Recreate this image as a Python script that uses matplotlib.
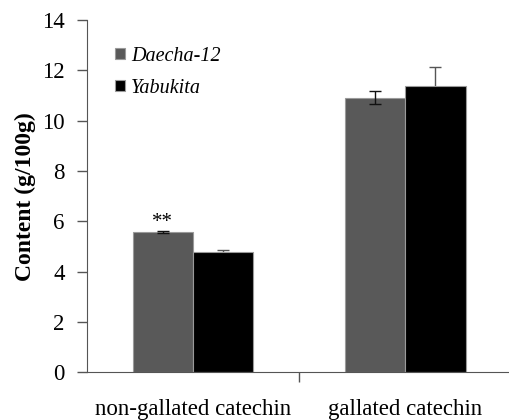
import matplotlib
matplotlib.use("Agg")
import matplotlib.pyplot as plt
import numpy as np

categories = ["non-gallated catechin", "gallated catechin"]
series_names = ["Daecha-12", "Yabukita"]
daecha = [5.56, 10.92]
daecha_err = [0.04, 0.25]
yabukita = [4.76, 11.40]
yabukita_err = [0.08, 0.75]
yticks = [0, 2, 4, 6, 8, 10, 12, 14]
annot = ["**", ""]

plt.rcParams['font.family'] = ['Liberation Serif', 'DejaVu Serif']

fig = plt.figure(figsize=(5.09, 4.2), dpi=100)
ax = fig.add_axes([0.171, 0.114, 0.829, 0.838])

x = np.arange(len(categories))
w = 0.285
ax.bar(x - w/2, daecha, w, color="#595959", edgecolor="#9a9a9a", linewidth=0.8, label=series_names[0], zorder=2)
ax.bar(x + w/2, yabukita, w, color="#000000", edgecolor="#9a9a9a", linewidth=0.8, label=series_names[1], zorder=2)
ax.errorbar(x - w/2, daecha, yerr=daecha_err, fmt="none", ecolor="#111111", elinewidth=1.0, capsize=4, capthick=1.0, zorder=3)
ax.errorbar(x + w/2, yabukita, yerr=yabukita_err, fmt="none", ecolor="#555555", elinewidth=1.0, capsize=4, capthick=1.0, zorder=1)

for i, a in enumerate(annot):
    if a:
        ax.text(x[i] - w/2, daecha[i] + daecha_err[i] - 0.02, a, ha="center", va="bottom", fontsize=15)

ax.set_xlim(-0.5, 1.49)
ax.set_ylim(0, 14)
ax.set_yticks(yticks)
ax.set_yticklabels([str(t) for t in yticks], fontsize=16.5)
ax.set_xticks([0.5])
ax.set_xticklabels([""])
ax.tick_params(axis="x", direction="out", length=7, width=1, colors="#555555")
ax.tick_params(axis="y", direction="out", length=7, width=1, colors="#555555", labelcolor="black", pad=9)
for i, c in enumerate(categories):
    ax.text(x[i], -1.05, c, ha="center", va="top", fontsize=16.5)

ax.spines["top"].set_visible(False)
ax.spines["right"].set_visible(False)
ax.spines["left"].set_color("#555555")
ax.spines["bottom"].set_color("#555555")

ax.set_ylabel("Content (g/100g)", fontsize=17, fontweight="bold")
ax.yaxis.set_label_coords(-0.121, 0.5)

leg = ax.legend(loc="upper left", bbox_to_anchor=(0.066, 0.925), frameon=False,
                prop={"style": "italic", "size": 14.5}, handlelength=0.5, handleheight=0.5,
                handletextpad=0.3, labelspacing=0.65, borderpad=0, borderaxespad=0)

fig.savefig("out.png", dpi=100)
